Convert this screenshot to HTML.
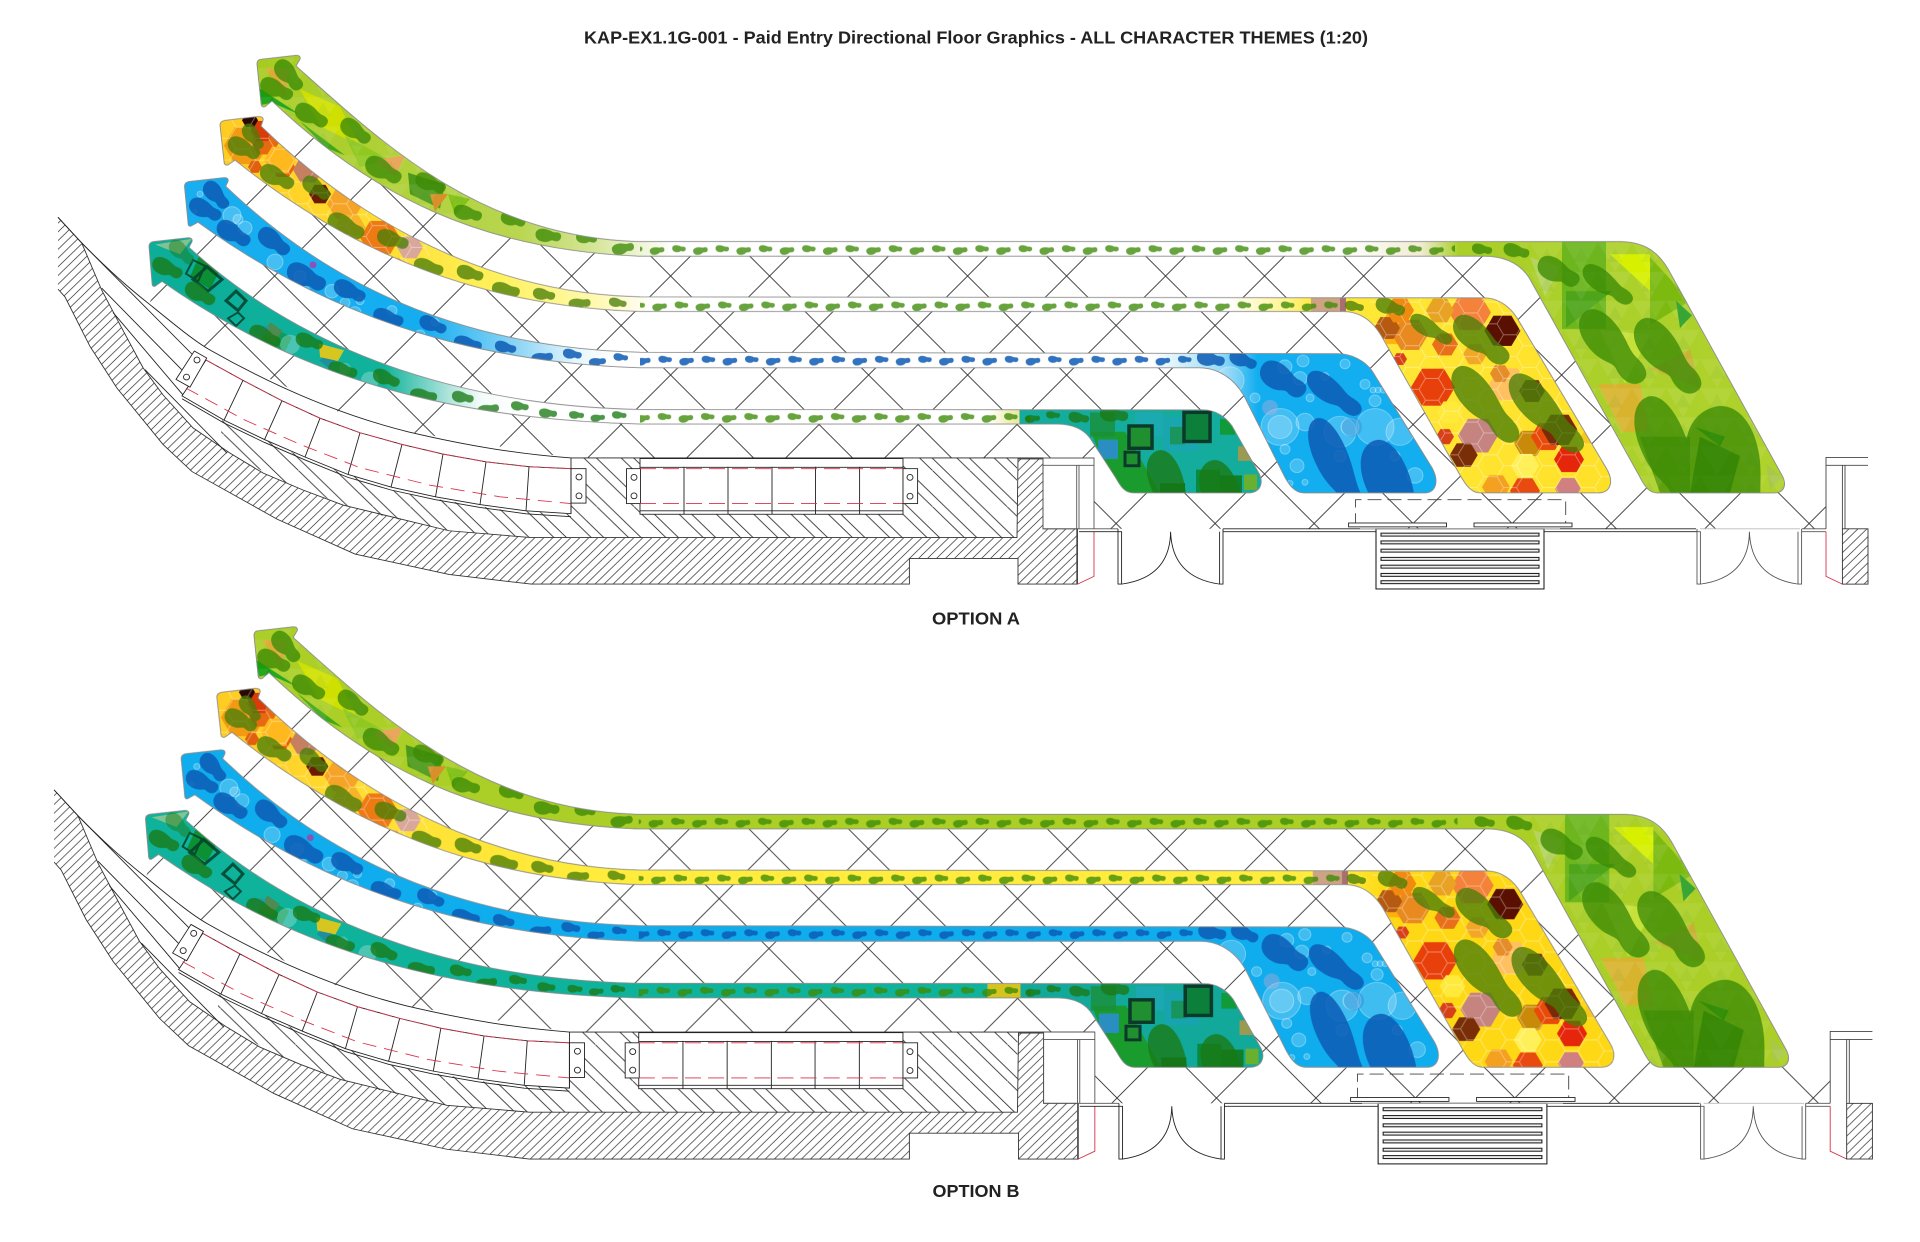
<!DOCTYPE html>
<html><head><meta charset="utf-8"><title>KAP-EX1.1G-001</title>
<style>html,body{margin:0;padding:0;background:#fff}svg{display:block}text{font-family:"Liberation Sans",sans-serif;font-weight:bold;fill:#222}</style>
</head><body>
<svg xmlns="http://www.w3.org/2000/svg" width="1920" height="1242" viewBox="0 0 1920 1242">
<defs>
<path id="f" d="M0 2C0-14 14-20 28-16C38-12 42-27 66-27C88-27 100-14 100 2C100 18 84 27 62 25C44 23 36 16 24 18C10 20 0 16 0 2Z"/>
<path id="g" d="M0 2C0-12 14-18 28-14C38-11 42-24 66-24C88-24 100-12 100 2C100 16 84 24 62 22C44 20 36 14 24 16C10 18 0 14 0 2Z"/>
<polygon id="hx" points="1,0 .5,.866 -.5,.866 -1,0 -.5,-.866 .5,-.866"/>
<g id="sp"><use href="#f" transform="matrix(-.135 -.012 .012 -.135 13.5 8)"/><use href="#f" transform="matrix(-.145 .025 -.025 -.145 35.5 8)"/></g>
<pattern id="p1" patternUnits="userSpaceOnUse" x="715.5" y="249" width="43.3" height="15"><use href="#sp" fill="#3c8a06" opacity=".78"/></pattern>
<pattern id="p2" patternUnits="userSpaceOnUse" x="674.7" y="307" width="43.3" height="15"><use href="#sp" fill="#3c8a06" opacity=".78"/></pattern>
<pattern id="p3" patternUnits="userSpaceOnUse" x="658.4" y="363" width="43.3" height="15"><use href="#sp" fill="#0c5ab4" opacity=".85"/></pattern>
<pattern id="p4" patternUnits="userSpaceOnUse" x="657.7" y="422" width="43.3" height="15"><use href="#sp" fill="#3c8a06" opacity=".78"/></pattern>
<pattern id="lat" patternUnits="userSpaceOnUse" x="621.1" y="226.5" width="99" height="99"><path d="M0 0L99 99M99 0L0 99" stroke="#333" stroke-width=".9" fill="none"/></pattern>
<pattern id="h1" patternUnits="userSpaceOnUse" width="9" height="9"><path d="M-1 10L10-1M-1 1L1-1M8 10L10 8" stroke="#333" stroke-width=".75" fill="none"/></pattern>
<pattern id="h2" patternUnits="userSpaceOnUse" width="37.3" height="37.3"><path d="M-1-1L38.3 38.3M11.5-1L38.3 25.8M-1 23.8L13.5 38.3" stroke="#333" stroke-width=".9" fill="none"/></pattern>
<pattern id="hc" patternUnits="userSpaceOnUse" x="1380" y="300" width="39" height="22.5"><path d="M0 11.25L6.5 0H19.5L26 11.25L19.5 22.5H6.5ZM26 11.25H39" fill="none" stroke="#fff" stroke-opacity=".38" stroke-width=".9"/></pattern>
<pattern id="tr" patternUnits="userSpaceOnUse" x="1530" y="250" width="34" height="30"><polygon points="0,0 17,30 34,0" fill="#fff" fill-opacity=".07"/><polygon points="17,6 25,20 9,20" fill="#3c8a06" fill-opacity=".07"/></pattern>
<clipPath id="lc"><polygon points="258,100 272,104 327,155 408,204 490,241 571,257 640,255 1620,255 1784,500 1826,515 1826,545 1094,545 1094,472 571,472 408,445 350,430 210,361 149,314 160,285 172,262 195,232 205,205 232,165 242,125"/></clipPath>

<path id="s1" d="M272 104L265 110Q261 111 261 106L257 66Q257 61 262 61L296 57Q301 57 300 61L296 68C380 145 480 245 640 249L1619 249C1645 249 1658 260 1668 277L1781 488C1788 500 1784 508 1774 508L1657 508C1648 508 1643 498 1639 490L1529 286C1520 272 1505 264 1484 264L640 264C480 258 370 200 272 104Z"/>
<path id="s2" d="M235 165L228 170Q224 171 224 166L220 129Q220 125 225 124L258 120Q264 120 263 124L261 130C350 220 480 302 640 306L1484 307C1500 307 1512 318 1519 331L1606 482C1615 497 1610 508 1598 508L1480 508C1470 508 1464 497 1458 486L1384 351C1375 333 1362 321 1343 321L640 321C480 316 350 260 235 165Z"/>
<path id="s3" d="M198 229L191 233Q188 234 188 229L184.500 192Q184.500 188 189 187L224 183Q229 183 228 187L225.700 192C320 285 450 358 640 363L1337 364.500C1352 364.500 1365 372 1372 382L1432 482C1440 497 1435 508 1425 508L1304 508C1294 508 1288 498 1284 490L1244 408C1234 390 1218 379 1199 379L640 379C460 373 320 320 198 229Z"/>
<path id="s4" d="M162 290L155 295Q152 296 152 291L149 254Q149 250 153 249L188 245Q193 245 192 249L189 255C290 350 440 418 640 422L1203 422.400C1216 422.400 1226 430 1232 439L1258 486C1265 498 1260 508 1248 508L1134 508C1124 508 1120 500 1115.500 492L1091 453C1084 442 1072 437 1056 437L640 437C450 432 300 390 162 290Z"/>
<clipPath id="c1"><use href="#s1"/></clipPath>
<clipPath id="c2"><use href="#s2"/></clipPath>
<clipPath id="c3"><use href="#s3"/></clipPath>
<clipPath id="c4"><use href="#s4"/></clipPath>

<linearGradient id="A1" gradientUnits="userSpaceOnUse" x1="0" x2="1920" y1="0" y2="0"><stop offset=".13" stop-color="#a6cc1e"/><stop offset=".27" stop-color="#b9d650"/><stop offset=".31" stop-color="#d6e69a"/><stop offset=".35" stop-color="#fff"/><stop offset=".70" stop-color="#fff"/><stop offset=".74" stop-color="#f2ecd2"/><stop offset=".76" stop-color="#a9cf28"/><stop offset="1" stop-color="#b2d42e"/></linearGradient>
<linearGradient id="A2" gradientUnits="userSpaceOnUse" x1="0" x2="1920" y1="0" y2="0"><stop offset=".1" stop-color="#ffc81e"/><stop offset=".2" stop-color="#ffdf30"/><stop offset=".26" stop-color="#fff25e"/><stop offset=".31" stop-color="#fff9b0"/><stop offset=".34" stop-color="#fff"/><stop offset=".64" stop-color="#fff"/><stop offset=".67" stop-color="#fff490"/><stop offset=".685" stop-color="#ffe93a"/><stop offset="1" stop-color="#ffd815"/></linearGradient>
<linearGradient id="A3" gradientUnits="userSpaceOnUse" x1="0" x2="1920" y1="0" y2="0"><stop offset=".1" stop-color="#18aef0"/><stop offset=".22" stop-color="#14aef0"/><stop offset=".27" stop-color="#8fd6f6"/><stop offset=".3" stop-color="#e6f6fd"/><stop offset=".32" stop-color="#fff"/><stop offset=".6" stop-color="#fff"/><stop offset=".635" stop-color="#9bdcf8"/><stop offset=".655" stop-color="#12aef0"/></linearGradient>
<linearGradient id="A4" gradientUnits="userSpaceOnUse" x1="0" x2="1920" y1="0" y2="0"><stop offset=".1" stop-color="#0cae9a"/><stop offset=".2" stop-color="#11b39c"/><stop offset=".235" stop-color="#b5e6de"/><stop offset=".25" stop-color="#f3fbf9"/><stop offset=".27" stop-color="#fff"/><stop offset=".515" stop-color="#fff"/><stop offset=".525" stop-color="#f0efb8"/><stop offset=".531" stop-color="#e6e9a0"/><stop offset=".5311" stop-color="#14ac9c"/></linearGradient>
<linearGradient id="B2" gradientUnits="userSpaceOnUse" x1="0" x2="1920" y1="0" y2="0"><stop offset=".1" stop-color="#ffc81e"/><stop offset=".2" stop-color="#ffe036"/><stop offset=".3" stop-color="#ffec3c"/><stop offset=".7" stop-color="#ffec3c"/><stop offset=".72" stop-color="#ffd815"/></linearGradient>
<linearGradient id="B4" gradientUnits="userSpaceOnUse" x1="0" x2="1920" y1="0" y2="0"><stop offset=".514" stop-color="#0fb39b"/><stop offset=".5141" stop-color="#d6c41e"/><stop offset=".5312" stop-color="#d6c41e"/><stop offset=".5313" stop-color="#12a89a"/></linearGradient>

<g id="t1"><g clip-path="url(#c1)">
<polygon fill="#cfe000" points="300,92 340,110 360,150 320,130"/><polygon fill="#e9a23a" opacity=".8" points="265,70 290,72 285,100"/><polygon fill="#15a010" points="258,90 300,118 272,106 262,108"/><polygon fill="#3da81a" points="300,125 345,160 325,152"/><polygon fill="#90c820" points="345,140 390,165 360,172"/><polygon fill="#e8a050" points="375,165 405,160 395,182"/><polygon fill="#4d9a1a" points="408,178 445,190 440,215 410,200"/><polygon fill="#d8902a" points="430,200 448,200 435,218"/><polygon fill="#7fc010" points="448,200 470,205 455,222"/>
<rect x="1562" y="249" width="44" height="90" fill="#6db61e"/><polygon fill="#d6f000" points="1610,262 1650,262 1650,300"/><polygon fill="#4fa51a" points="1566,300 1612,300 1566,338"/><polygon fill="#7cba10" points="1650,265 1690,310 1650,335"/><polygon fill="#b5d45e" points="1530,265 1560,275 1545,305"/><polygon fill="#2aa028" points="1676,310 1692,325 1680,338"/><polygon fill="#c6e23a" points="1600,340 1650,345 1625,395"/><polygon fill="#d8b42e" points="1598,396 1640,396 1650,445 1622,445"/><polygon fill="#5fa00c" points="1640,450 1690,450 1690,508 1660,508"/><polygon fill="#2f8208" points="1700,450 1740,470 1730,508 1690,508"/><polygon fill="#129a14" points="1695,440 1725,450 1720,460"/><polygon fill="#a9c84a" points="1766,478 1782,492 1770,505"/><polygon fill="#d0a83a" opacity=".7" points="1650,380 1690,360 1700,400"/>
<rect x="1520" y="249" width="270" height="260" fill="url(#tr)"/><rect x="257" y="57" width="220" height="170" fill="url(#tr)"/>
<rect x="640" y="249" width="815" height="15" fill="url(#p1)"/>
<g fill="#3c8a06" opacity=".78"><use href="#f" transform="matrix(-.225 -.29 .29 -.225 300 92)"/><use href="#f" transform="matrix(-.31 -.16 .16 -.31 292 100)"/><use href="#f" transform="matrix(-.305 -.186 .186 -.305 326.5 128.6)"/><use href="#f" transform="matrix(-.27 -.215 .215 -.27 369 146)"/><use href="#f" transform="matrix(-.335 -.21 .21 -.335 400 186)"/><use href="#f" transform="matrix(-.29 -.14 .14 -.29 445 196)"/><use href="#f" transform="matrix(-.276 -.08 .08 -.276 481.6 224)"/><use href="#f" transform="matrix(-.24 -.081 .081 -.24 525 230.6)"/><use href="#f" transform="matrix(-.255 -.04 .04 -.255 561 245)"/><use href="#f" transform="matrix(-.21 -.033 .033 -.21 597 247)"/><use href="#f" transform="matrix(-.22 .04 -.04 -.22 634 254)"/>
<use href="#f" transform="matrix(-.2 -.04 .04 -.2 1492 259)"/><use href="#f" transform="matrix(-.253 -.074 .074 -.253 1529 262.4)"/><use href="#f" transform="matrix(-.39 -.23 .23 -.39 1578 292)"/><use href="#g" transform="matrix(-.47 -.365 .292 -.376 1631 312)"/><use href="#g" transform="matrix(-.57 -.72 .612 -.485 1641 394)"/><use href="#g" transform="matrix(-.57 -.73 .62 -.485 1696 404)"/><use href="#g" transform="matrix(-.55 -1.33 .93 -.385 1700 543)"/><use href="#g" transform="matrix(-.37 -1.51 1.51 -.37 1749 571)"/></g>
</g><use href="#s1" fill="none" stroke="#8c8c8c" stroke-width=".9"/></g>

<g id="t2"><g clip-path="url(#c2)">
<g><use href="#hx" fill="#f29a12" transform="translate(246 150) scale(22)"/><use href="#hx" fill="#e86a10" transform="translate(265 147) scale(14)"/><use href="#hx" fill="#d93c08" transform="translate(262 135) scale(12)"/><use href="#hx" fill="#2a0804" transform="translate(250 124) scale(8)"/><use href="#hx" fill="#e8620c" transform="translate(283 172) scale(12)"/><use href="#hx" fill="#ffb81e" transform="translate(280 165) scale(16)"/><use href="#hx" fill="#e06010" transform="translate(255 172) scale(7)"/><use href="#hx" fill="#c68060" transform="translate(308 175) scale(15)"/><use href="#hx" fill="#6b1a04" transform="translate(320 200) scale(11)"/><use href="#hx" fill="#f6a428" transform="translate(345 210) scale(18)"/><use href="#hx" fill="#ee7a14" transform="translate(380 245) scale(20)"/><use href="#hx" fill="#f8b428" transform="translate(350 235) scale(16)"/><use href="#hx" fill="#d9a89a" transform="translate(410 255) scale(13)"/><use href="#hx" fill="#f2860f" transform="translate(397 270) scale(5)"/></g>
<use href="#hx" fill="#ffb20f" transform="translate(1396 339) scale(18)"/><use href="#hx" fill="#e98a20" transform="translate(1410 345) scale(18)"/><use href="#hx" fill="#b55a10" transform="translate(1387 338) scale(13)"/><use href="#hx" fill="#f08a10" transform="translate(1400 320) scale(14)"/><use href="#hx" fill="#f4823a" transform="translate(1470 322) scale(21)"/><use href="#hx" fill="#e9a324" transform="translate(1440 320) scale(14)"/><use href="#hx" fill="#5a1000" transform="translate(1502.4 341) scale(18)"/><use href="#hx" fill="#e9701a" transform="translate(1445 355) scale(13)"/><use href="#hx" fill="#f2a826" transform="translate(1475 365) scale(12)"/><use href="#hx" fill="#e8400a" transform="translate(1433 399) scale(22)"/><use href="#hx" fill="#ffc060" transform="translate(1508 396) scale(19)"/><use href="#hx" fill="#e68d2b" transform="translate(1500 385) scale(10)"/><use href="#hx" fill="#7b3a14" transform="translate(1532 403) scale(13)"/><use href="#hx" fill="#d8401a" transform="translate(1400 370) scale(7)"/><use href="#hx" fill="#d8401a" transform="translate(1445 450) scale(9)"/><use href="#hx" fill="#c58480" transform="translate(1478 449) scale(20)"/><use href="#hx" fill="#7a2e08" transform="translate(1463.7 469) scale(14)"/><use href="#hx" fill="#c88a08" transform="translate(1529 457) scale(15)"/><use href="#hx" fill="#e84a0a" transform="translate(1547 450) scale(16)"/><use href="#hx" fill="#7a2a06" transform="translate(1559.6 443) scale(18)"/><use href="#hx" fill="#e5260a" transform="translate(1569 473.500) scale(15)"/><use href="#hx" fill="#f4a020" transform="translate(1496 502) scale(14)"/><use href="#hx" fill="#e84a10" transform="translate(1525 506) scale(15)"/><use href="#hx" fill="#d08080" transform="translate(1568 504) scale(13)"/><use href="#hx" fill="#fff05a" transform="translate(1525 480) scale(14)"/><use href="#hx" fill="#ffe93a" transform="translate(1450 425) scale(13)"/><use href="#hx" fill="#f8c81a" transform="translate(1590 450) scale(9)"/><use href="#hx" fill="#f28a10" transform="translate(1555 375) scale(7)"/>
<rect x="1370" y="300" width="250" height="210" fill="url(#hc)"/><rect x="220" y="120" width="210" height="160" fill="url(#hc)"/>
<rect x="1311" y="307" width="34" height="14" fill="#c99a8c" opacity=".9"/><rect x="1340" y="307" width="6" height="14" fill="#a86f70"/>
<rect x="640" y="307" width="705" height="15" fill="url(#p2)"/>
<g fill="#4a7f08" opacity=".78"><use href="#f" transform="matrix(-.16 -.244 .244 -.16 261 153)"/><use href="#f" transform="matrix(-.304 -.16 .16 -.304 259 161)"/><use href="#f" transform="matrix(-.32 -.185 .185 -.32 293 192)"/><use href="#f" transform="matrix(-.246 -.203 .203 -.246 328.6 204)"/><use href="#f" transform="matrix(-.344 -.193 .193 -.344 363 243)"/><use href="#f" transform="matrix(-.305 -.12 .12 -.305 408 253)"/><use href="#f" transform="matrix(-.29 -.09 .09 -.29 443 280)"/><use href="#f" transform="matrix(-.26 -.085 .085 -.26 483 286)"/><use href="#f" transform="matrix(-.276 -.06 .06 -.276 519.6 302)"/><use href="#f" transform="matrix(-.22 -.05 .05 -.22 555 306)"/><use href="#f" transform="matrix(-.22 .02 -.02 -.22 590.6 312)"/><use href="#f" transform="matrix(-.175 -.04 .04 -.175 626.5 314)"/>
<use href="#f" transform="matrix(-.187 -.045 .045 -.187 1363.7 318)"/><use href="#f" transform="matrix(-.285 -.11 .11 -.285 1404.5 322)"/><use href="#g" transform="matrix(-.4 -.265 .212 -.32 1451 353)"/><use href="#g" transform="matrix(-.51 -.45 .405 -.459 1506.5 373.5)"/><use href="#g" transform="matrix(-.592 -.75 .5625 -.444 1514.7 455)"/><use href="#g" transform="matrix(-.68 -.77 .539 -.476 1580 465)"/></g>
</g><use href="#s2" fill="none" stroke="#8c8c8c" stroke-width=".9"/></g>

<g id="t3"><g clip-path="url(#c3)">
<g fill="#fff" fill-opacity=".2" stroke="#fff" stroke-opacity=".35" stroke-width="1"><circle cx="232" cy="222" r="9"/><circle cx="238" cy="226" r="5"/><circle cx="245" cy="235" r="7"/><circle cx="275" cy="270" r="8"/><circle cx="268" cy="282" r="5"/><circle cx="300" cy="285" r="6"/><circle cx="305" cy="300" r="5"/><circle cx="332" cy="300" r="7"/><circle cx="345" cy="312" r="5"/><circle cx="355" cy="322" r="6"/><circle cx="392" cy="320" r="5"/><circle cx="420" cy="345" r="5"/><circle cx="360" cy="310" r="4"/><circle cx="435" cy="332" r="4"/><circle cx="200" cy="200" r="3"/><circle cx="195" cy="218" r="2"/>
<circle cx="1230" cy="392" r="14"/><circle cx="1285" cy="378" r="7"/><circle cx="1303" cy="372" r="6"/><circle cx="1300" cy="390" r="7"/><circle cx="1280" cy="440" r="19"/><circle cx="1280" cy="440" r="12"/><circle cx="1305" cy="435" r="9"/><circle cx="1340" cy="445" r="16"/><circle cx="1375" cy="440" r="19"/><circle cx="1400" cy="445" r="14"/><circle cx="1378" cy="378" r="6"/><circle cx="1365" cy="396" r="5"/><circle cx="1378" cy="402" r="3"/><circle cx="1373" cy="402" r="3"/><circle cx="1383" cy="402" r="3"/><circle cx="1375" cy="413" r="6"/><circle cx="1415" cy="490" r="8"/><circle cx="1297" cy="480" r="7"/><circle cx="1285" cy="463" r="5"/><circle cx="1350" cy="440" r="9"/><circle cx="1255" cy="410" r="5"/><circle cx="1310" cy="410" r="4"/><circle cx="1290" cy="498" r="3"/><circle cx="1305" cy="497" r="3"/><circle cx="1340" cy="470" r="6"/><circle cx="1395" cy="470" r="5"/><circle cx="1345" cy="375" r="5"/><circle cx="1325" cy="388" r="4"/></g>
<circle cx="313" cy="273" r="3.500" fill="#a83ca8" opacity=".8"/><circle cx="1352" cy="440" r="10" fill="#2b86d2" opacity=".4"/><circle cx="1270" cy="420" r="8" fill="#d8a8d0" opacity=".35"/>
<rect x="640" y="363" width="552" height="16" fill="url(#p3)"/>
<g fill="#0c5ab4" opacity=".85"><use href="#f" transform="matrix(-.205 -.26 .26 -.205 226.5 214)"/><use href="#f" transform="matrix(-.304 -.165 .165 -.304 220.4 224.5)"/><use href="#f" transform="matrix(-.31 -.204 .204 -.31 249 251)"/><use href="#f" transform="matrix(-.28 -.24 .24 -.28 288 261)"/><use href="#f" transform="matrix(-.365 -.205 .205 -.365 324.5 296)"/><use href="#f" transform="matrix(-.298 -.16 .16 -.298 364.5 308)"/><use href="#f" transform="matrix(-.295 -.102 .102 -.295 403 332.6)"/><use href="#f" transform="matrix(-.257 -.124 .124 -.257 445.7 341)"/><use href="#f" transform="matrix(-.276 -.07 .07 -.276 481.6 358)"/><use href="#f" transform="matrix(-.21 -.06 .06 -.21 516 361)"/><use href="#f" transform="matrix(-.216 .036 -.036 -.216 553 367)"/><use href="#f" transform="matrix(-.186 -.04 .04 -.186 581.6 367)"/><use href="#f" transform="matrix(-.17 .02 -.02 -.17 606 372)"/><use href="#f" transform="matrix(-.145 -.024 .024 -.145 628 369.4)"/>
<use href="#f" transform="matrix(-.275 -.065 .065 -.275 1224.5 373.5)"/><use href="#f" transform="matrix(-.26 -.125 .125 -.26 1256 377.5)"/><use href="#f" transform="matrix(-.42 -.29 .29 -.42 1304 406)"/><use href="#g" transform="matrix(-.51 -.408 .326 -.408 1359.6 426.5)"/><use href="#g" transform="matrix(-.49 -1.11 .666 -.294 1363.7 543)"/><use href="#g" transform="matrix(-.47 -1.16 .905 -.367 1419 571)"/></g>
</g><use href="#s3" fill="none" stroke="#8c8c8c" stroke-width=".9"/></g>

<g id="t4"><g clip-path="url(#c4)">
<polygon fill="#a8c890" opacity=".75" points="155,252 192,246 180,262"/>
<g fill="#0a8a22" opacity=".85"><polygon points="200,262 222,275 210,298 190,285"/><polygon points="258,355 270,335 292,348 282,368" opacity=".6"/></g>
<g fill="none" stroke="#03402a" stroke-width="3" opacity=".85"><polygon points="193,268 205,274 198,290 186,282" stroke-width="2"/><polygon points="207,275 222,288 208,300 193,288"/><polygon points="236,300 246,310 238,320 226,310"/><polygon points="238,322 244,328 236,336 228,328" stroke-width="2"/></g>
<rect x="265" y="335" width="15" height="15" fill="#4f8a50" transform="rotate(35 272 342)"/><rect x="322" y="365" width="12" height="12" fill="#1f8fa0" transform="rotate(40 328 371)"/><polygon points="319,354 344,361 338,372 320,368" fill="#d8c620"/><rect x="255" y="335" width="14" height="10" fill="#1d9bb0" opacity=".6"/>
<circle cx="290" cy="355" r="10" fill="#fff" opacity=".25"/><circle cx="370" cy="392" r="9" fill="#fff" opacity=".25"/><circle cx="345" cy="380" r="6" fill="#fff" opacity=".2"/>
<polygon fill="#1a9b2e" points="1091,445 1125,445 1160,508 1115,508"/>
<rect x="1090" y="425" width="25" height="25" fill="#1a8f3a" opacity=".8"/><rect x="1098" y="453" width="20" height="20" fill="#2a8fc0"/><rect x="1135" y="425" width="28" height="25" fill="#22a8c0" opacity=".6"/><rect x="1163" y="430" width="35" height="35" fill="#1f9fc8" opacity=".45"/><rect x="1170" y="440" width="15" height="18" fill="#1a8f3a" opacity=".7"/>
<rect x="1129" y="439" width="23" height="23" fill="#1f8f30" stroke="#0b3a2a" stroke-width="3.500"/><rect x="1125" y="466" width="14" height="14" fill="#1f8f30" stroke="#0b3a2a" stroke-width="3"/><rect x="1184" y="425" width="26" height="30" fill="#0c7f3a" stroke="#0b3a2a" stroke-width="3.500"/><rect x="1220" y="432" width="15" height="16" fill="#109a3a"/><rect x="1238" y="460" width="14" height="15" fill="#9a9a50"/><rect x="1244" y="489" width="13" height="16" fill="#6ab030"/><rect x="1217" y="490" width="25" height="20" fill="#0e7f2a"/><rect x="1160" y="498" width="25" height="12" fill="#0a6f2a"/><rect x="1196" y="484" width="24" height="24" fill="#098a3c"/>
<rect x="640" y="422" width="390" height="15" fill="url(#p4)"/>
<g fill="#1a7a14" opacity=".78"><use href="#f" transform="matrix(-.21 -.22 .22 -.21 192 271)" opacity=".6"/><use href="#f" transform="matrix(-.286 -.15 .15 -.286 181.6 284)"/><use href="#f" transform="matrix(-.28 -.18 .18 -.28 214 312)"/><use href="#f" transform="matrix(-.296 -.16 .16 -.296 279.6 355)"/><use href="#f" transform="matrix(-.264 -.1 .1 -.264 322.4 357)"/><use href="#f" transform="matrix(-.284 -.085 .085 -.284 357 386)"/><use href="#f" transform="matrix(-.255 -.123 .123 -.255 399 396)"/><use href="#f" transform="matrix(-.27 -.04 .04 -.27 437 410)"/><use href="#f" transform="matrix(-.215 -.05 .05 -.215 473.5 412)"/><use href="#f" transform="matrix(-.215 .045 -.045 -.215 499 420)"/><use href="#f" transform="matrix(-.176 -.034 .034 -.176 528.6 420.4)"/><use href="#f" transform="matrix(-.18 -.02 .02 -.18 557 427)"/><use href="#f" transform="matrix(-.15 -.016 .016 -.15 584 428.6)"/><use href="#f" transform="matrix(-.144 .014 -.014 -.144 605 430)"/><use href="#f" transform="matrix(-.145 -.016 .016 -.145 626.5 428.6)"/>
<use href="#f" transform="matrix(-.15 .01 -.01 -.15 1040 431)"/><use href="#f" transform="matrix(-.14 -.016 .016 -.14 1060 428.6)"/><use href="#f" transform="matrix(-.204 -.04 .04 -.204 1089 432.6)"/><use href="#f" transform="matrix(-.28 -.05 .05 -.28 1128 430)"/><use href="#g" transform="matrix(-.31 -.86 .688 -.248 1187 551)"/><use href="#g" transform="matrix(-.35 -.875 .744 -.298 1244 563)"/></g>
</g><use href="#s4" fill="none" stroke="#8c8c8c" stroke-width=".9"/></g>

<g id="plan" fill="none" stroke="#222" stroke-width=".9">
<g clip-path="url(#lc)"><g transform="scale(1 1.0306)"><rect x="0" y="0" width="1920" height="600" fill="url(#lat)" stroke="none"/></g></g>
<path fill="url(#h2)" stroke="none" d="M222 433L300 470 400 508 500 525 571 530 571 472 1017 472 1017 554 531 554 449 547 359 526 277 494 220 461Z"/>
<path fill="url(#h1)" stroke="#333" stroke-width=".9" d="M58 224L81.700 250.400 101.700 299 121.700 338 143 379 163 407 193 441 230 467 263 487.500 303 505 343 520.500 449 547 531 554 1017 554 1018 473 1043 473 1043 545 1077.500 545 1077.500 602 1018 602 1018 575.500 909.400 575.500 909.400 602 531 602 449 592 355 571 277 535 192 486 163 458 117 400 90 357 65 306 58 298"/>
<path d="M58 224L81.700 250.400C110 280 130 298 150 314C175 335 195 352 210 360.700C260 390 330 425 408 445C470 460 520 468 571 472L1094 472"/>
<path d="M81.700 250.400L193 366M101.700 297L181.700 381M113 322L183 407M145 381L227 467"/>
<path fill="#fff" d="M206 371L243 392 282 413 320 431 360 446 402 458 443 468 486 476 529 481 571 483 571 529.400 526 526.500 480 520 435.500 512 391 502 348 489 305 471 264.500 453 224 433 182 408Z"/>
<path d="M182 411L224 436 264.500 456 305 474 348 492 391 505 435.500 515 480 523 526 529.500 571 532.500"/>
<path d="M243 392L224 433M282 413L264.500 453M320 431L305 471M360 446L348 489M402 458L391 502M443 468L435.500 512M486 476L480 520M529 481L526 526.500"/>
<path stroke="#d8324a" d="M206 371L243 392 282 413 320 431 360 446 402 458 443 468 486 476 529 481 571 483" stroke-dasharray="12 3"/>
<path stroke="#d8324a" stroke-dasharray="14 8" d="M186 400L245 433 300 458 360 482 430 500 500 512 571 519"/>
<path fill="#fff" d="M194.300 361.800L206.700 369 190 399 176 391Z"/><circle cx="197" cy="371" r="3"/><circle cx="186.500" cy="388.600" r="3"/>
<rect x="571" y="483" width="15" height="35.500" fill="#fff"/><circle cx="579" cy="491.600" r="3"/><circle cx="579" cy="511" r="3"/>
<path d="M571 472V529.400"/>
<rect x="640" y="472.600" width="263" height="57.400" fill="#fff"/><path d="M640 526.500H903M684 481V530M728 481V530M772 481V530M815.500 481V530M859.600 481V530M640 481.600H903"/>
<rect x="626.500" y="483" width="14" height="36" fill="#fff"/><circle cx="634" cy="492" r="3"/><circle cx="634" cy="511" r="3"/>
<path stroke="#d8324a" stroke-dasharray="16 7" d="M640 483H903M640 519H903"/><path stroke="#d8324a" d="M903 483V519"/>
<rect x="903" y="483" width="14.600" height="36" fill="#fff"/><circle cx="910" cy="492" r="3"/><circle cx="910" cy="511.400" r="3"/>
<path stroke="#555" d="M1043 472H1094V545M1043 479.600H1094M1076.700 480V602M1079 480V545M1043 473V545H1118"/>
<path stroke="#d8324a" d="M1094 548V594L1077.500 602"/>
<path d="M1079 548H1118M1118 545V602H1121.600V548H1118M1219.600 548V602H1223V545M1121.600 602Q1170 595 1170.600 548M1219.600 602Q1172 595 1170.600 548"/>
<path d="M1223 545H1696M1223 548H1376M1544 548H1697"/>
<rect x="1376" y="545" width="168" height="62" fill="#fff" stroke-width="1.100"/>
<g fill="#eee" stroke-width="1.100"><rect x="1381" y="549.500" width="158" height="3"/><rect x="1381" y="557.500" width="158" height="3"/><rect x="1381" y="566" width="158" height="3"/><rect x="1381" y="574.500" width="158" height="3"/><rect x="1381" y="582.500" width="158" height="3"/><rect x="1381" y="591" width="158" height="3"/><rect x="1381" y="598.500" width="158" height="3"/></g>
<path stroke="#444" stroke-dasharray="14 6" d="M1355.500 543V515H1565.700V543"/>
<rect x="1348.600" y="539" width="97.900" height="4" fill="#fff"/><rect x="1474" y="539" width="98" height="4" fill="#fff"/>
<path stroke="#bbb" d="M1360 545H1560M1700 545H1800"/>
<path stroke="#555" d="M1697 545V602H1700.400V548H1697M1798 548V602H1801.600V545M1700.400 602Q1749 595 1749.400 548M1798 602Q1751 595 1749.400 548M1801.600 545H1826M1801.600 548H1826"/>
<path stroke="#444" d="M1868 471.400H1826V545M1826 479.600H1868M1842.400 480V545M1845 480V545"/>
<path stroke="#d8324a" d="M1826 548V594L1842.400 602"/>
<rect x="1842.400" y="545" width="25.600" height="57" fill="url(#h1)" stroke="#333"/>
</g>
</defs>
<rect width="1920" height="1242" fill="#fff"/>
<text x="584" y="43.500" font-size="17.500" textLength="784" lengthAdjust="spacingAndGlyphs">KAP-EX1.1G-001 - Paid Entry Directional Floor Graphics - ALL CHARACTER THEMES (1:20)</text>
<g transform="scale(1 .9703)">
<use href="#plan"/>
<use href="#s4" fill="url(#A4)"/><use href="#t4"/>
<use href="#s3" fill="url(#A3)"/><use href="#t3"/>
<use href="#s2" fill="url(#A2)"/><use href="#t2"/>
<use href="#s1" fill="url(#A1)"/><use href="#t1"/>
</g>
<text x="932" y="624.500" font-size="17.500" textLength="88" lengthAdjust="spacingAndGlyphs">OPTION A</text>
<g transform="matrix(1.0046 0 0 1.0065 -4.2 571.1) scale(1 .9703)">
<use href="#plan"/>
<use href="#s4" fill="url(#B4)"/><use href="#t4"/>
<use href="#s3" fill="#0fadee"/><use href="#t3"/>
<use href="#s2" fill="url(#B2)"/><use href="#t2"/>
<use href="#s1" fill="#abcf26"/><use href="#t1"/>
</g>
<text x="932.500" y="1197" font-size="17.500" textLength="87" lengthAdjust="spacingAndGlyphs">OPTION B</text>
</svg>
</body></html>
